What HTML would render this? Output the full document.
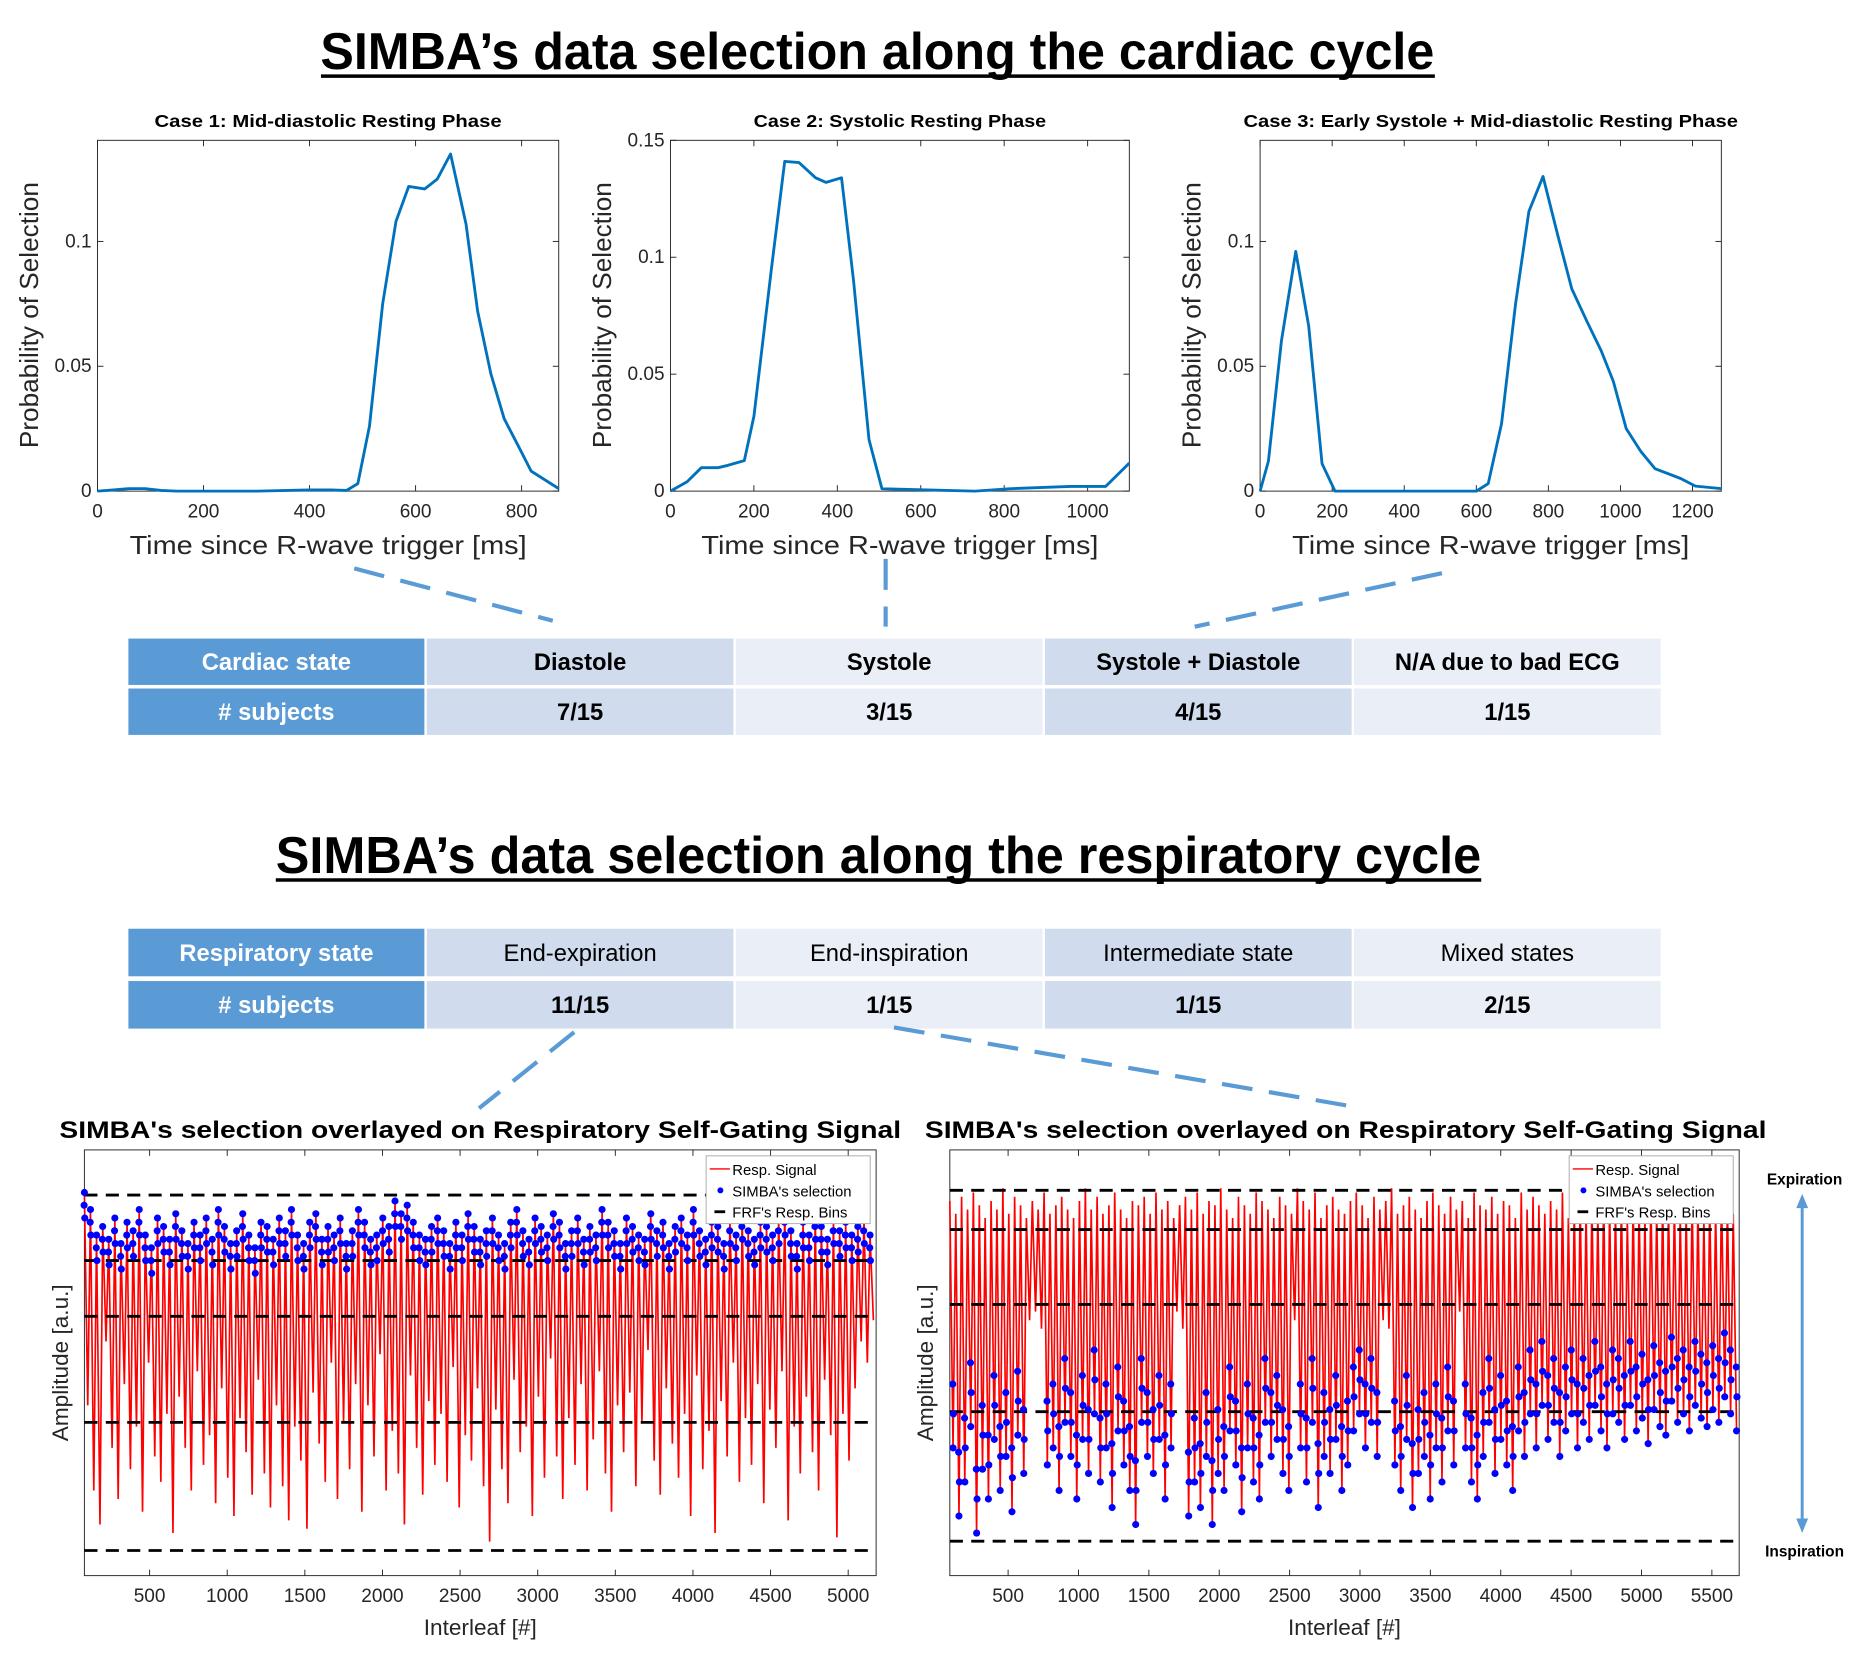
<!DOCTYPE html>
<html><head><meta charset="utf-8"><style>html,body{margin:0;padding:0;background:#fff}svg{display:block}text{font-family:"Liberation Sans",sans-serif}</style></head>
<body>
<svg id="fig" xmlns="http://www.w3.org/2000/svg" width="1864" height="1666" viewBox="0 0 1568 1401" preserveAspectRatio="none">
<text x="738" y="58" text-anchor="middle" font-size="44" font-weight="bold" textLength="937" lengthAdjust="spacingAndGlyphs">SIMBA’s data selection along the cardiac cycle</text>
<line x1="270" y1="64" x2="1207" y2="64" stroke="#000" stroke-width="3"/>
<text x="739" y="734" text-anchor="middle" font-size="44" font-weight="bold" textLength="1014" lengthAdjust="spacingAndGlyphs">SIMBA’s data selection along the respiratory cycle</text>
<line x1="232" y1="740" x2="1246" y2="740" stroke="#000" stroke-width="3"/>
<g id="root"></g>
</svg>
<script>
// ---- Cardiac data ----
const case1X=[0,30,60,90,120,150,300,400,440,470,491,513,538,563,587,617,641,666,695,717,742,767,794,818,870];
const case1Y=[0,0.0005,0.001,0.001,0.0003,0,0,0.0005,0.0005,0.0003,0.003,0.026,0.075,0.108,0.122,0.121,0.125,0.135,0.107,0.072,0.047,0.029,0.018,0.008,0.001];
const case2X=[0,40,74,114,137,177,200,242,274,308,348,373,410,439,476,507,730,812,958,1043,1100];
const case2Y=[0,0.004,0.01,0.01,0.011,0.013,0.032,0.095,0.141,0.1405,0.134,0.132,0.134,0.09,0.022,0.001,0,0.001,0.002,0.002,0.012];
const case3X=[0,23,59,99,135,172,208,600,633,670,709,746,785,825,865,907,947,980,1016,1056,1096,1132,1168,1208,1280];
const case3Y=[0,0.012,0.06,0.096,0.066,0.011,0,0,0.003,0.027,0.075,0.112,0.126,0.103,0.081,0.068,0.056,0.044,0.025,0.016,0.009,0.007,0.005,0.002,0.001];
const ticks1=[0,200,400,600,800], ticks2=[0,200,400,600,800,1000], ticks3=[0,200,400,600,800,1000,1200];
const yTicksA=[0,0.05,0.1], yTicksB=[0,0.05,0.1,0.15];
// ---- Tables ----
const cardiacHeader=["Cardiac state","Diastole","Systole","Systole + Diastole","N/A due to bad ECG"];
const cardiacCounts=["# subjects","7/15","3/15","4/15","1/15"];
const respHeader=["Respiratory state","End-expiration","End-inspiration","Intermediate state","Mixed states"];
const respCounts=["# subjects","11/15","1/15","1/15","2/15"];
// ---- Respiratory data (amplitude, arbitrary 0-100) ----
const leftTrough=[40,20,12,55,30,18,45,25,35,15,50,28,22,38,10,42,30,20,48,26,33,17,44,23,14,37,29,19,46,24,16,40,21,13,35,27,11,43,31,22,50,18,36,25,45,15,40,28,52,20,34,24,12,47,30,19,41,26,38,22,49,16,33,27,44,21,8,39,25,17,46,29,35,14,42,23,51,28,18,37,26,45,20,32,48,24,15,40,29,43,21,36,53,27,19,44,31,23,38,14,47,25,34,10,41,28,50,22,37,26,45,17,39,30,48,13,35,24,42,29,20,46,33,9,38,27,44,55,50,60];
const leftPeak=[90,86,80,82,79,84,78,83,81,86,80,77,84,82,79,85,81,78,83,80,84,79,86,82,78,81,85,80,77,83,82,79,84,81,86,80,78,83,85,79,82,80,84,78,81,86,83,79,80,84,82,88,85,87,83,80,79,82,84,81,78,83,80,85,82,79,81,84,80,78,83,86,81,79,84,82,80,85,83,78,81,84,79,82,80,86,83,81,78,84,82,80,79,85,81,83,78,82,84,80,86,81,79,83,82,78,84,80,85,81,79,83,82,80,84,86,81,78,83,80,85,82,79,84,81,83,80,82,84,80];
const rightTrough=[30,14,22,35,10,25,18,32,20,28,15,33,24,60,62,58,26,30,20,36,28,18,32,24,38,22,30,16,34,26,20,12,36,28,24,32,18,30,62,58,14,22,16,28,12,24,20,34,26,15,30,22,18,36,28,32,24,20,60,30,22,36,16,28,24,32,20,26,34,38,30,36,28,60,58,26,20,32,16,24,28,18,30,22,34,26,62,30,22,18,28,36,24,32,26,20,34,28,38,30,40,32,36,28,34,38,30,36,32,40,34,30,38,36,32,40,34,37,31,39,35,33,41,36,38,34,40,37,35,39,36,42,38,34];
const rightPeak=[88,85,89,86,90,87,84,88,86,91,85,89,87,84,88,86,90,85,87,89,86,84,88,91,86,89,85,87,90,86,84,88,87,89,85,90,86,88,84,87,89,86,90,85,88,87,91,86,84,89,87,85,90,88,86,84,89,87,85,91,88,86,90,84,87,89,86,85,88,90,87,84,89,86,88,91,85,87,89,86,84,88,90,87,85,89,86,88,84,90,87,86,89,85,88,87,84,90,86,89,87,85,88,86,90,84,87,89,86,88,85,90,87,86,89,84,88,87,85,90,86,89,87,88,85,86,89,87,84,88,86,90,87,85];
const leftBins=[89.4,74,60.9,36,5.9], rightBins=[90.5,81.3,63.7,38.5,8.1];
const leftXTicks=[500,1000,1500,2000,2500,3000,3500,4000,4500,5000];
const rightXTicks=[500,1000,1500,2000,2500,3000,3500,4000,4500,5000,5500];

const NS="http://www.w3.org/2000/svg", root=document.getElementById('root');
function mk(tag,attrs,parent,txt){const e=document.createElementNS(NS,tag);for(const k in attrs)e.setAttribute(k,attrs[k]);if(txt!==undefined)e.textContent=txt;(parent||root).appendChild(e);return e;}
function scale(d0,d1,r0,r1){return v=>r0+(v-d0)/(d1-d0)*(r1-r0);}

function axes(name,L,R,T,B,xmin,xmax,ymin,ymax,xt,yt,fs,ytLabels){
  const g=mk('g',{});
  
  
  const sx=scale(xmin,xmax,L,R), sy=scale(ymin,ymax,B,T);
  const box=mk('rect',{x:L,y:T,width:R-L,height:B-T,fill:'none',stroke:'#262626','stroke-width':0.8},g);
  
  
  xt.forEach(v=>{const x=sx(v);
    mk('line',{x1:x,y1:B,x2:x,y2:B-5,stroke:'#262626','stroke-width':0.8},g);
    mk('line',{x1:x,y1:T,x2:x,y2:T+5,stroke:'#262626','stroke-width':0.8},g);
    const t=mk('text',{x:x,y:B+fs+6,'text-anchor':'middle','font-size':fs,fill:'#262626'},g,String(v));
    
    
  });
  yt.forEach(v=>{const y=sy(v);
    mk('line',{x1:L,y1:y,x2:L+5,y2:y,stroke:'#262626','stroke-width':0.8},g);
    mk('line',{x1:R,y1:y,x2:R-5,y2:y,stroke:'#262626','stroke-width':0.8},g);
    if(ytLabels){const t=mk('text',{x:L-5,y:y+5,'text-anchor':'end','font-size':fs,fill:'#262626'},g,String(v));
    
    }
  });
  return {g,sx,sy};
}

// ---- Cardiac plots ----
const cases=[
 {n:'case1',L:82,R:470,xmax:870,ymax:0.1405,X:case1X,Y:case1Y,xt:ticks1,yt:yTicksA,title:'Case 1: Mid-diastolic Resting Phase',tw:292},
 {n:'case2',L:564,R:950,xmax:1100,ymax:0.15,X:case2X,Y:case2Y,xt:ticks2,yt:yTicksB,title:'Case 2: Systolic Resting Phase',tw:246},
 {n:'case3',L:1060,R:1448,xmax:1280,ymax:0.1405,X:case3X,Y:case3Y,xt:ticks3,yt:yTicksA,title:'Case 3: Early Systole + Mid-diastolic Resting Phase',tw:416}];
cases.forEach(c=>{
  const a=axes(c.n+'-axes',c.L,c.R,118,413,0,c.xmax,0,c.ymax,c.xt,c.yt,16,true);
  const d=c.X.map((x,i)=>(i?'L':'M')+a.sx(x).toFixed(1)+','+a.sy(c.Y[i]).toFixed(1)).join('');
  const p=mk('path',{d:d,fill:'none',stroke:'#0072bd','stroke-width':2.4,'stroke-linejoin':'round'},a.g);
  
  
  const cx=(c.L+c.R)/2;
  const t=mk('text',{x:cx,y:107,'text-anchor':'middle','font-size':15,'font-weight':'bold',textLength:c.tw,lengthAdjust:'spacingAndGlyphs'},a.g,c.title);
  
  
  const xl=mk('text',{x:cx,y:466,'text-anchor':'middle','font-size':22,fill:'#262626',textLength:334,lengthAdjust:'spacingAndGlyphs'},a.g,'Time since R-wave trigger [ms]');
  
  
  const yx=c.L-50;
  const yl=mk('text',{x:yx,y:265,'text-anchor':'middle','font-size':22,fill:'#262626',transform:`rotate(-90 ${yx} 265)`},a.g,'Probability of Selection');
  
  
});

// ---- Tables ----
const colX=[108,359,619,879,1139], colW=[249,258,258,258,258], colFill=['#5b9bd5','#d0dcee','#e9eef7','#d0dcee','#e9eef7'];
function table(name,rows,rowY,rowH,boldRow1){
  const g=mk('g',{});
  
  
  rows.forEach((row,r)=>{row.forEach((txt,c)=>{
    mk('rect',{x:colX[c],y:rowY[r],width:colW[c],height:rowH,fill:colFill[c]},g);
    const t=mk('text',{x:colX[c]+colW[c]/2,y:rowY[r]+rowH/2+7,'text-anchor':'middle','font-size':20,'font-weight':(c===0||r===1||boldRow1)?'bold':'normal',fill:c===0?'#fff':'#000'},g,txt);
    
    
  });});
}
table('cardiac-table',[cardiacHeader,cardiacCounts],[537,579],39,true);
table('respiratory-table',[respHeader,respCounts],[781,825],40,false);

// connectors
[[298,478,465,522],[745,470,745,527],[1213,482,1005,527],[483,868,403,932],[752,864,1135,930]].forEach(c=>{
  const l=mk('line',{x1:c[0],y1:c[1],x2:c[2],y2:c[3],stroke:'#5b9bd5','stroke-width':3.5,'stroke-dasharray':'26 14'});
  
  
});

// ---- Respiratory plots ----
function respPlot(n,L,R,xmin,xmax,trough,peak,bins,xt,dotsAtPeak,titleX){
  const T=967,B=1325;
  const a=axes(n+'-axes',L,R,T,B,xmin,xmax,0,100,xt,[],16,false);
  const N=Math.min(trough.length,peak.length), per=(xmax-xmin)/N;
  let d='';
  for(let i=0;i<N;i++){
    d+=(i?'L':'M')+a.sx(xmin+i*per).toFixed(1)+','+a.sy(peak[i]).toFixed(1);
    d+='L'+a.sx(xmin+(i+0.55)*per).toFixed(1)+','+a.sy(trough[i]).toFixed(1);
  }
  const p=mk('path',{d:d,fill:'none',stroke:'#ff0000','stroke-width':1.4},a.g);
  
  
  bins.forEach(b=>{const l=mk('line',{x1:L,x2:R,y1:a.sy(b),y2:a.sy(b),stroke:'#000','stroke-width':2.4,'stroke-dasharray':'11 7'},a.g);
    
    });
  for(let i=0;i<N;i++){
    let pts=[];
    if(dotsAtPeak){pts=[[xmin+i*per,peak[i]],[xmin+(i+0.06)*per,peak[i]-6],[xmin+(i-0.05)*per,peak[i]-3]];}
    else if(trough[i]<50){pts=[[xmin+(i+0.55)*per,trough[i]],[xmin+(i+0.62)*per,trough[i]+8],[xmin+(i+0.5)*per,trough[i]+15]];}
    pts.forEach(q=>{const c=mk('circle',{cx:a.sx(q[0]),cy:a.sy(q[1]),r:3,fill:'#0000ff'},a.g);
      
      });
  }
  const lg=mk('g',{},a.g);
  
  
  const lx=R-143;
  mk('rect',{x:lx,y:972,width:138,height:57,fill:'#fff',stroke:'#aaa','stroke-width':0.8},lg);
  mk('line',{x1:lx+3,x2:lx+20,y1:983,y2:983,stroke:'#f00','stroke-width':1.2},lg);
  mk('circle',{cx:lx+12,cy:1001,r:2.5,fill:'#00f'},lg);
  mk('line',{x1:lx+7,x2:lx+16,y1:1019,y2:1019,stroke:'#000','stroke-width':2.4},lg);
  ['Resp. Signal',"SIMBA's selection","FRF's Resp. Bins"].forEach((s,i)=>{
    const t=mk('text',{x:lx+22,y:988+i*18,'font-size':12.5,fill:'#000'},lg,s);
    
    });
  const cx=(L+R)/2;
  const t=mk('text',{x:titleX,y:957,'text-anchor':'middle','font-size':20,'font-weight':'bold',textLength:708,lengthAdjust:'spacingAndGlyphs'},a.g,"SIMBA's selection overlayed on Respiratory Self-Gating Signal");
  
  
  const xl=mk('text',{x:cx,y:1375,'text-anchor':'middle','font-size':19,fill:'#262626'},a.g,'Interleaf [#]');
  
  
  const yx=L-14;
  const yl=mk('text',{x:yx,y:1146,'text-anchor':'middle','font-size':19,fill:'#262626',transform:`rotate(-90 ${yx} 1146)`},a.g,'Amplitude [a.u.]');
  
  
}
respPlot('left',71,737,80,5180,leftTrough,leftPeak,leftBins,leftXTicks,true,404);
respPlot('right',799,1463,86,5694,rightTrough,rightPeak,rightBins,rightXTicks,false,1132);

const ag=mk('g',{});


mk('line',{x1:1516,y1:1012,x2:1516,y2:1281,stroke:'#5b9bd5','stroke-width':2.5},ag);
mk('path',{d:'M1511,1016 L1516,1004 L1521,1016 Z',fill:'#5b9bd5'},ag);
mk('path',{d:'M1511,1277 L1516,1289 L1521,1277 Z',fill:'#5b9bd5'},ag);
const e1=mk('text',{x:1518,y:996,'text-anchor':'middle','font-size':13,'font-weight':'bold'},ag,'Expiration');


const e2=mk('text',{x:1518,y:1309,'text-anchor':'middle','font-size':13,'font-weight':'bold'},ag,'Inspiration');


</script>
</body></html>
